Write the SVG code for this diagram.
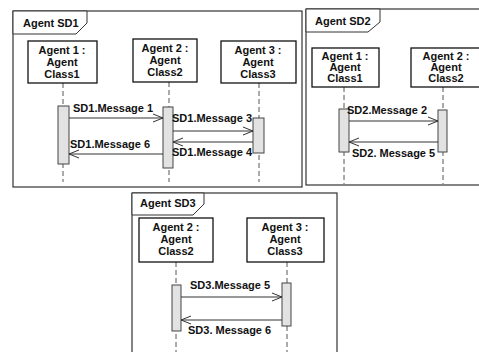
<svg xmlns="http://www.w3.org/2000/svg" width="479" height="352" viewBox="0 0 479 352">
<defs>
<marker id="open" markerWidth="12" markerHeight="10" refX="11" refY="5" orient="auto" markerUnits="userSpaceOnUse">
<path d="M1,1 L11,5 L1,9" fill="none" stroke="#333" stroke-width="1"/>
</marker>
</defs>
<style>
text{font-family:"Liberation Sans",Arial,sans-serif;font-weight:bold;font-size:11px;fill:#111}
.c{text-anchor:middle}
.frame{fill:#fff;stroke:#333;stroke-width:1.2}
.tab{fill:#fff;stroke:#333;stroke-width:1}
.box{fill:#fff;stroke:#111;stroke-width:1.3}
.life{stroke:#555;stroke-width:1;stroke-dasharray:5,3;fill:none}
.bar{fill:#e2e2e2;stroke:#444;stroke-width:1}
.msg{stroke:#333;stroke-width:1;fill:none;marker-end:url(#open)}
</style>
<rect width="479" height="352" fill="#fff"/>

<g id="frame-sd1">
<rect class="frame" x="13" y="11" width="289" height="176"/>
<polygon class="tab" points="13,11 87,11 87,23 76,34 13,34"/>
<text x="23" y="27">Agent SD1</text>
</g>
<g id="frame-sd2">
<rect class="frame" x="306" y="9" width="180" height="176" stroke-width="1.6"/>
<polygon class="tab" points="306,9 380,9 380,22 368,32 306,32"/>
<text x="315" y="25">Agent SD2</text>
</g>
<g id="frame-sd3">
<rect class="frame" x="132" y="193" width="205" height="170"/>
<polygon class="tab" points="132,193 204,193 204,204 193,215 132,215"/>
<text x="140" y="207">Agent SD3</text>
</g>

<g id="connectors">
<line class="life" x1="63" y1="83" x2="63" y2="182"/>
<line class="life" x1="169" y1="82" x2="169" y2="182"/>
<line class="life" x1="259" y1="83" x2="259" y2="182"/>
<line class="life" x1="344" y1="87" x2="344" y2="184"/>
<line class="life" x1="443" y1="87" x2="443" y2="184"/>
<line class="life" x1="176" y1="262" x2="176" y2="352"/>
<line class="life" x1="287" y1="262" x2="287" y2="352"/>
</g>

<g id="sd1-agent1">
<rect class="box" x="28" y="41" width="69" height="42"/>
<text class="c" x="62" y="54">Agent 1 :</text>
<text class="c" x="62" y="66">Agent</text>
<text class="c" x="62" y="78">Class1</text>
</g>
<g id="sd1-agent2">
<rect class="box" x="133" y="39" width="64" height="43"/>
<text class="c" x="165" y="52">Agent 2 :</text>
<text class="c" x="165" y="64">Agent</text>
<text class="c" x="165" y="76">Class2</text>
</g>
<g id="sd1-agent3">
<rect class="box" x="221" y="41" width="75" height="42"/>
<text class="c" x="258" y="54">Agent 3 :</text>
<text class="c" x="258" y="66">Agent</text>
<text class="c" x="258" y="78">Class3</text>
</g>
<g id="sd2-agent1">
<rect class="box" x="312" y="48" width="67" height="39"/>
<text class="c" x="345" y="60">Agent 1 :</text>
<text class="c" x="345" y="71">Agent</text>
<text class="c" x="345" y="82">Class1</text>
</g>
<g id="sd2-agent2">
<rect class="box" x="411" y="48" width="70" height="39"/>
<text class="c" x="446" y="60">Agent 2 :</text>
<text class="c" x="446" y="71">Agent</text>
<text class="c" x="446" y="82">Class2</text>
</g>
<g id="sd3-agent2">
<rect class="box" x="139" y="218" width="74" height="44"/>
<text class="c" x="176" y="231">Agent 2 :</text>
<text class="c" x="176" y="243">Agent</text>
<text class="c" x="176" y="255">Class2</text>
</g>
<g id="sd3-agent3">
<rect class="box" x="247" y="218" width="77" height="44"/>
<text class="c" x="285" y="231">Agent 3 :</text>
<text class="c" x="285" y="243">Agent</text>
<text class="c" x="285" y="255">Class3</text>
</g>

<g id="activations">
<rect class="bar" x="58" y="106" width="11" height="58"/>
<rect class="bar" x="163" y="107" width="10" height="61"/>
<rect class="bar" x="253" y="118" width="11" height="35"/>
<rect class="bar" x="339" y="109" width="10" height="43"/>
<rect class="bar" x="438" y="110" width="9" height="42"/>
<rect class="bar" x="172" y="285" width="9" height="46"/>
<rect class="bar" x="282" y="283" width="9" height="43"/>
</g>

<g id="messages">
<line class="msg" x1="69" y1="118" x2="163" y2="118"/>
<line class="msg" x1="173" y1="131" x2="253" y2="131"/>
<line class="msg" x1="253" y1="142" x2="173" y2="142"/>
<line class="msg" x1="163" y1="154" x2="69" y2="154"/>
<line class="msg" x1="349" y1="121" x2="438" y2="121"/>
<line class="msg" x1="438" y1="142" x2="349" y2="142"/>
<line class="msg" x1="181" y1="297" x2="282" y2="297"/>
<line class="msg" x1="282" y1="320" x2="181" y2="320"/>
<text x="73" y="112">SD1.Message 1</text>
<text x="172" y="122">SD1.Message 3</text>
<text x="172" y="156">SD1.Message 4</text>
<text x="70" y="148">SD1.Message 6</text>
<text x="347" y="114">SD2.Message 2</text>
<text x="352" y="157">SD2. Message 5</text>
<text x="190" y="289">SD3.Message 5</text>
<text x="188" y="334">SD3. Message 6</text>
</g>
</svg>
